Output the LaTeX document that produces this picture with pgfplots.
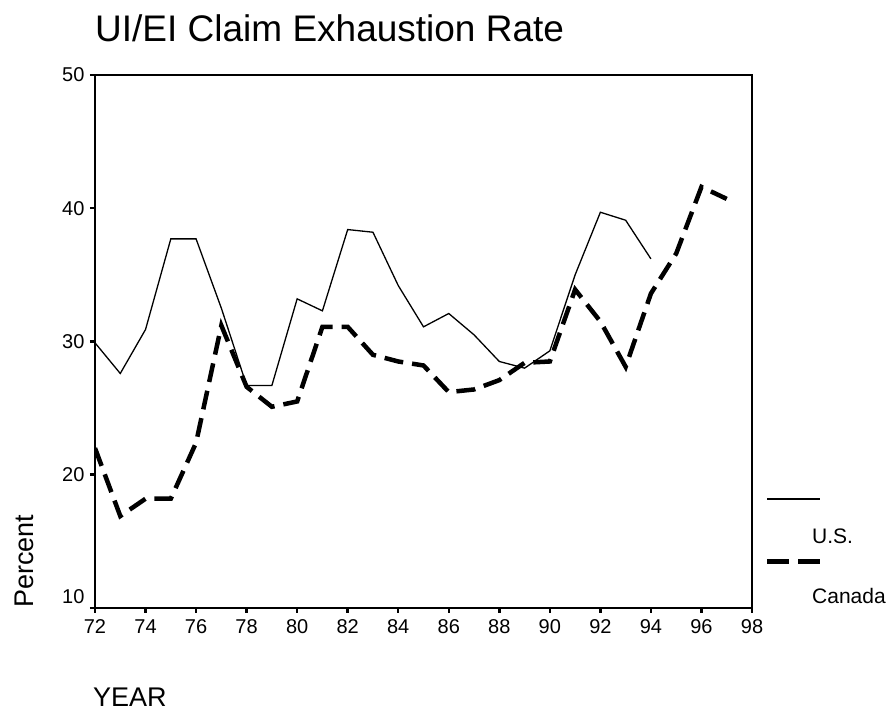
\documentclass[border=0pt]{standalone}
\usepackage{pgfplots}
\pgfplotsset{compat=1.18}
\usepackage{fontspec}
\setmainfont{Liberation Sans}
\begin{document}
\begin{tikzpicture}[x=1pt,y=1pt]
\path[use as bounding box] (0,0) rectangle (887,711);
\begin{axis}[at={(95pt,103pt)}, anchor=south west, scale only axis,
  width=657pt, height=533pt,
  xmin=72, xmax=98, ymin=10, ymax=50,
  xtick={72,74,...,98}, ytick={20,30,40,50},
  extra y ticks={10},
  extra y tick style={yticklabel style={yshift=11pt}},
  tick align=outside, major tick length=5pt,
  tick pos=left,
  tick style={line width=2.5pt, black},
  axis line style={line width=1.6pt},
  ticklabel style={font=\fontsize{20}{24}\selectfont},
  /pgf/number format/assume math mode=true,
  xticklabel style={yshift=-3pt},
  yticklabel style={xshift=-2pt},
]
\addplot[black, line width=1.3pt] coordinates {
(72,29.9)(73,27.6)(74,30.9)(75,37.7)(76,37.7)(77,32.5)(78,26.7)(79,26.7)(80,33.2)(81,32.3)(82,38.4)(83,38.2)(84,34.2)(85,31.1)(86,32.1)(87,30.5)(88,28.5)(89,28.0)(90,29.3)(91,35.0)(92,39.7)(93,39.1)(94,36.2)
};
\addplot[black, line width=4.5pt, dash pattern=on 19pt off 9pt] coordinates {
(72,22.0)(73,16.9)(74,18.2)(75,18.2)(76,22.4)(77,31.2)(78,26.6)(79,25.1)(80,25.5)(81,31.1)(82,31.1)(83,29.0)(84,28.5)(85,28.2)(86,26.2)(87,26.4)(88,27.1)(89,28.4)(90,28.5)(91,33.9)(92,31.5)(93,28.1)(94,33.6)(95,36.6)(96,41.6)(97,40.7)
};
\end{axis}
\node[anchor=base west, inner sep=0pt, font=\fontsize{37}{42}\selectfont] at (95,669.3) {UI/EI Claim Exhaustion Rate};
\node[anchor=base west, inner sep=0pt, rotate=90, font=\fontsize{27}{30}\selectfont] at (33,103) {Percent};
\node[anchor=base west, inner sep=0pt, font=\fontsize{27}{30}\selectfont] at (93,4) {YEAR};
\draw[black, line width=1.3pt] (767,212) -- (820,212);
\node[anchor=base west, inner sep=0pt, font=\fontsize{21}{24}\selectfont] at (812,167.7) {U.S.};
\draw[black, line width=5.5pt, dash pattern=on 22pt off 9pt] (767,149.3) -- (820,149.3);
\node[anchor=base west, inner sep=0pt, font=\fontsize{21}{24}\selectfont] at (812,107) {Canada};
\end{tikzpicture}
\end{document}
